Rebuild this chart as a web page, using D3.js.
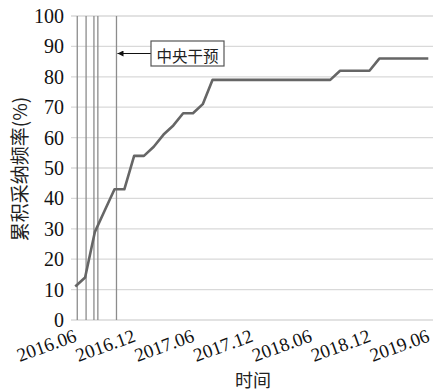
<!DOCTYPE html>
<html>
<head>
<meta charset="utf-8">
<script src="https://cdn.jsdelivr.net/npm/d3@7"></script>
<style>
  html, body { margin: 0; padding: 0; background: #fff; }
  svg { display: block; }
  .serif { font-family: "Liberation Serif", "Times New Roman", serif; }
  .cjk { font-family: "Noto Sans CJK SC", "Noto Sans CJK JP", sans-serif; }
</style>
</head>
<body>
<svg id="chart" width="433" height="391"></svg>
<script>
// Monthly cumulative adoption frequency, 2016.06 – 2019.06 (37 months)
const months = [
  "2016.06","2016.07","2016.08","2016.09","2016.10","2016.11","2016.12",
  "2017.01","2017.02","2017.03","2017.04","2017.05","2017.06",
  "2017.07","2017.08","2017.09","2017.10","2017.11","2017.12",
  "2018.01","2018.02","2018.03","2018.04","2018.05","2018.06",
  "2018.07","2018.08","2018.09","2018.10","2018.11","2018.12",
  "2019.01","2019.02","2019.03","2019.04","2019.05","2019.06"
];
const values = [
  11, 14, 29, 36, 43, 43, 54,
  54, 57, 61, 64, 68, 68,
  71, 79, 79, 79, 79, 79,
  79, 79, 79, 79, 79, 79,
  79, 79, 82, 82, 82, 82,
  86, 86, 86, 86, 86, 86
];
const xTickLabels = ["2016.06","2016.12","2017.06","2017.12","2018.06","2018.12","2019.06"];
const yTicks = [0, 10, 20, 30, 40, 50, 60, 70, 80, 90, 100];
// vertical event lines, position in months after 2016.06
const eventLines = [0.2, 1.1, 1.9, 2.3, 4.2];
const annotationText = "中央干预";
const annotationIndex = 4; // the last event line (中央干预)
const xTitle = "时间";
const yTitle = "累积采纳频率(%)";

const svg = d3.select("#chart");
const plotLeft = 71, plotRight = 433, plotTop = 16, plotBottom = 320;

const x = d3.scaleLinear().domain([0, months.length - 1]).range([75.3, 428.3]);
const y = d3.scaleLinear().domain([0, 100]).range([plotBottom, plotTop]);

// horizontal gridlines
svg.append("g").selectAll("line").data(yTicks).join("line")
  .attr("x1", plotLeft).attr("x2", plotRight)
  .attr("y1", d => y(d)).attr("y2", d => y(d))
  .attr("stroke", "#d9d9d9").attr("stroke-width", 1.3);

// y tick labels
svg.append("g").selectAll("text").data(yTicks).join("text")
  .attr("class", "serif")
  .attr("x", 64).attr("y", d => y(d))
  .attr("text-anchor", "end").attr("dominant-baseline", "central")
  .attr("font-size", 20).attr("fill", "#111")
  .text(d => d);

// vertical event lines
svg.append("g").selectAll("line").data(eventLines).join("line")
  .attr("x1", d => x(d)).attr("x2", d => x(d))
  .attr("y1", y(100)).attr("y2", y(0))
  .attr("stroke", "#8c8c8c").attr("stroke-width", 1.3);

// data line
const line = d3.line().x((d, i) => x(i)).y(d => y(d));
svg.append("path").datum(values)
  .attr("d", line).attr("fill", "none")
  .attr("stroke", "#666").attr("stroke-width", 2.6)
  .attr("stroke-linejoin", "round");

// x tick labels (rotated)
svg.append("g").selectAll("text").data(xTickLabels).join("text")
  .attr("class", "serif")
  .attr("transform", d => `translate(${x(months.indexOf(d)) + 2.5},${341}) rotate(-20)`)
  .attr("text-anchor", "end")
  .attr("font-size", 19).attr("fill", "#111")
  .text(d => d);

// annotation arrow + box
const ax = x(eventLines[annotationIndex]);
const ay = 53.5;
const boxX = 151, boxW = 73, boxY = 41, boxH = 25;
svg.append("defs").append("marker")
  .attr("id", "arrow").attr("viewBox", "0 0 10 10")
  .attr("refX", 10).attr("refY", 5)
  .attr("markerWidth", 7).attr("markerHeight", 6).attr("markerUnits", "userSpaceOnUse")
  .attr("orient", "auto")
  .append("path").attr("d", "M0,0 L10,5 L0,10 Z").attr("fill", "#111");
svg.append("line")
  .attr("x1", boxX).attr("x2", ax + 1).attr("y1", ay).attr("y2", ay)
  .attr("stroke", "#111").attr("stroke-width", 1.2)
  .attr("marker-end", "url(#arrow)");
svg.append("rect")
  .attr("x", boxX).attr("y", boxY).attr("width", boxW).attr("height", boxH)
  .attr("fill", "#fff").attr("stroke", "#555").attr("stroke-width", 1.2);
svg.append("text")
  .attr("class", "cjk")
  .attr("x", boxX + boxW / 2).attr("y", boxY + boxH / 2 + 1)
  .attr("text-anchor", "middle").attr("dominant-baseline", "central")
  .attr("font-size", 15.5).attr("fill", "#222")
  .text(annotationText);

// axis titles
svg.append("text")
  .attr("class", "cjk")
  .attr("x", 253).attr("y", 379)
  .attr("text-anchor", "middle").attr("dominant-baseline", "central")
  .attr("font-size", 18).attr("fill", "#222")
  .text(xTitle);
svg.append("text")
  .attr("class", "cjk")
  .attr("transform", "translate(18.5,169) rotate(-90)")
  .attr("text-anchor", "middle").attr("dominant-baseline", "central")
  .attr("font-size", 19).attr("fill", "#222")
  .text(yTitle);
</script>
</body>
</html>
